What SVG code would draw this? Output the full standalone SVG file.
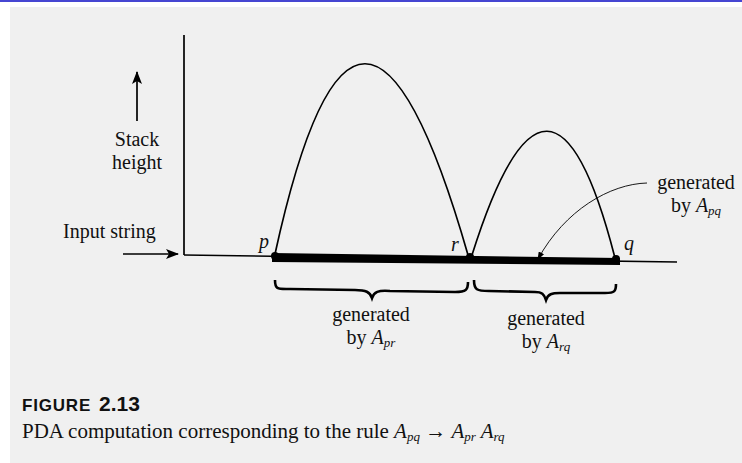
<svg xmlns="http://www.w3.org/2000/svg" width="742" height="463" viewBox="0 0 742 463">
<defs>
<marker id="ah" markerWidth="13" markerHeight="10" refX="12" refY="5" orient="auto" markerUnits="userSpaceOnUse">
<path d="M0,0 L13,5 L0,10 L3,5 Z" fill="#000"/>
</marker>
<marker id="ahs" markerWidth="8" markerHeight="6" refX="7" refY="3" orient="auto" markerUnits="userSpaceOnUse">
<path d="M0,0 L8,3 L0,6 Z" fill="#000"/>
</marker>
<style>
.t{font-family:"Liberation Serif","Times New Roman",serif;font-size:20px;fill:#111}
.i{font-style:italic}
.sub{font-size:13px;font-style:italic}
.ln{stroke:#000;fill:none;stroke-width:1.7}
.br{stroke:#000;fill:none;stroke-width:2.6}
</style>
</defs>
<rect width="742" height="463" fill="#fff"/>
<rect x="0" y="0" width="742" height="2" fill="#4646d2"/>
<rect x="10" y="7" width="732" height="456" fill="#f0f0f0"/>

<g id="axes">
<line class="ln" x1="184" y1="35" x2="184" y2="255"/>
<line class="ln" x1="184" y1="255" x2="677" y2="262"/>
</g>
<g id="stack-label">
<line class="ln" x1="137" y1="121" x2="137" y2="72" marker-end="url(#ah)"/>
<text class="t" x="137" y="146" text-anchor="middle">Stack</text>
<text class="t" x="137" y="169" text-anchor="middle">height</text>
</g>
<g id="input-label">
<text class="t" x="63" y="238">Input string</text>
<line class="ln" x1="123" y1="254" x2="178" y2="254" marker-end="url(#ah)"/>
</g>
<g id="bar">
<path d="M272,253 L620,258 L620,265 L272,262 Z" fill="#000"/>
<circle cx="275" cy="256" r="4" fill="#000"/>
<circle cx="470" cy="257" r="4" fill="#000"/>
<circle cx="616" cy="259" r="4" fill="#000"/>
<text class="t i" x="259" y="248">p</text>
<text class="t i" x="451" y="251">r</text>
<text class="t i" x="624" y="250">q</text>
</g>
<g id="arch-pr">
<path class="ln" d="M275,254 Q358.5,-127 468,255"/>
</g>
<g id="arch-rq">
<path class="ln" d="M472,255 Q550.5,6 615,258"/>
</g>
<g id="brace-pr">
<path class="br" d="M275,280 C275,290 278,289 290,289 L355,290 C366,290 370,292 372,298 C374,292 378,290 390,291 L455,292 C466,292 468,290 468,282"/>
<text class="t" x="371" y="321" text-anchor="middle">generated</text>
<text class="t" x="371" y="344" text-anchor="middle">by <tspan class="i">A</tspan><tspan class="sub" dy="3">pr</tspan></text>
</g>
<g id="brace-rq">
<path class="br" d="M474,280 C474,290 477,291 489,291 L535,292 C542,292 544,294 546,300 C548,294 552,293 560,293 L605,293 C615,293 616,291 616,284"/>
<text class="t" x="546" y="325" text-anchor="middle">generated</text>
<text class="t" x="546" y="348" text-anchor="middle">by <tspan class="i">A</tspan><tspan class="sub" dy="3">rq</tspan></text>
</g>
<g id="label-pq">
<text class="t" x="696" y="189" text-anchor="middle">generated</text>
<text class="t" x="696" y="212" text-anchor="middle">by <tspan class="i">A</tspan><tspan class="sub" dy="3">pq</tspan></text>
</g>
<g id="connectors">
<path d="M647,183 C610,184 565,210 538,259" fill="none" stroke="#000" stroke-width="0.9" marker-end="url(#ahs)"/>
</g>
<g id="caption">
<text x="22" y="411" font-family="'Liberation Sans',Arial,sans-serif" font-weight="bold" fill="#111"><tspan font-size="17" letter-spacing="0.8">FIGURE</tspan><tspan font-size="21" dx="8">2.13</tspan></text>
<text class="t" x="22" y="438" style="font-size:21px">PDA computation corresponding to the rule <tspan class="i">A</tspan><tspan class="sub" dy="3">pq</tspan><tspan dy="-3"> → </tspan><tspan class="i">A</tspan><tspan class="sub" dy="3">pr</tspan><tspan class="i" dy="-3"> A</tspan><tspan class="sub" dy="3">rq</tspan></text>
</g>
</svg>
